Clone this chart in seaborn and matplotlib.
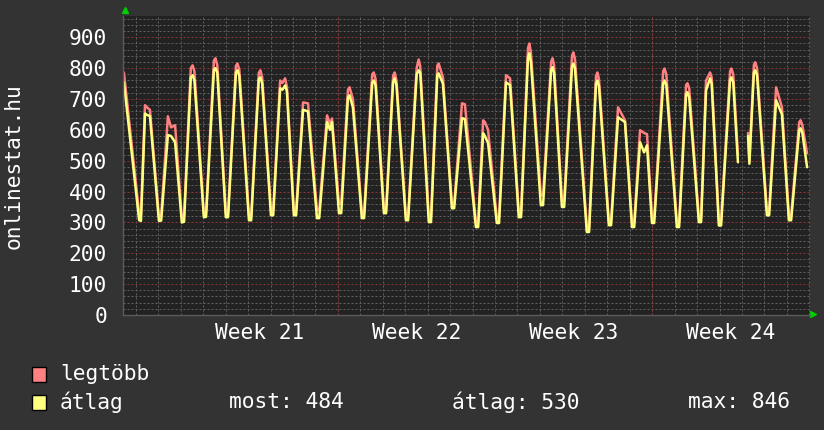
import numpy as np
import pandas as pd
import matplotlib
matplotlib.use("Agg")
import matplotlib.pyplot as plt
import seaborn as sns
from matplotlib.patches import Rectangle

# ---- data (time in days from the start of the graph) ----
t_days = [0.04,
          0.72, 0.80, 0.98, 1.08, 1.20,
          1.60, 1.70, 2.00, 2.14, 2.32,
          2.62, 2.72, 3.02, 3.10, 3.18,
          3.60, 3.70, 4.05, 4.12, 4.20,
          4.58, 4.68, 5.03, 5.10, 5.18,
          5.61, 5.71, 6.05, 6.12, 6.20,
          6.59, 6.69, 7.00, 7.10, 7.22, 7.30,
          7.61, 7.71, 8.02, 8.24,
          8.64, 8.74, 9.09, 9.22, 9.31,
          9.62, 9.72, 10.02, 10.09, 10.24,
          10.64, 10.74, 11.10, 11.17, 11.25,
          11.62, 11.72, 12.03, 12.10, 12.18,
          12.60, 12.70, 13.08, 13.17, 13.24,
          13.62, 13.72, 14.00, 14.06, 14.25,
          14.65, 14.75, 15.10, 15.23,
          15.72, 15.82, 16.04, 16.12, 16.26,
          16.65, 16.75, 17.06, 17.24,
          17.63, 17.73, 18.04, 18.10, 18.17,
          18.61, 18.71, 19.07, 19.13, 19.20,
          19.55, 19.65, 20.00, 20.06, 20.13,
          20.66, 20.76, 21.07, 21.13, 21.20,
          21.64, 21.74, 22.05, 22.36,
          22.67, 22.77, 23.03, 23.21, 23.34,
          23.56, 23.66, 24.06, 24.12, 24.20,
          24.67, 24.77, 25.08, 25.14, 25.22,
          25.65, 25.75, 25.97, 26.15, 26.22,
          26.54, 26.64, 27.04, 27.10, 27.18, 27.39,
          27.84, 27.90, 28.10, 28.16, 28.24,
          28.68, 28.78, 29.09, 29.35,
          29.66, 29.76, 30.12, 30.18, 30.26,
          30.47]
legtobb = [786,
           330, 325, 680, 672, 665,
           320, 322, 644, 608, 615,
           315, 318, 800, 809, 790,
           330, 332, 825, 832, 810,
           330, 330, 808, 815, 795,
           322, 322, 785, 793, 770,
           338, 338, 760, 752, 767, 740,
           338, 338, 689, 686,
           340, 340, 647, 620, 637,
           360, 360, 730, 738, 700,
           330, 330, 780, 786, 765,
           345, 345, 775, 786, 760,
           322, 322, 800, 828, 805,
           318, 318, 808, 815, 770,
           360, 360, 686, 683,
           300, 300, 631, 625, 600,
           315, 315, 777, 767,
           332, 332, 865, 880, 850,
           388, 388, 820, 832, 810,
           370, 370, 840, 851, 830,
           285, 285, 775, 786, 765,
           305, 305, 673, 631,
           300, 300, 599, 590, 586,
           315, 315, 790, 799, 780,
           300, 300, 745, 751, 735,
           316, 316, 760, 786, 770,
           305, 305, 790, 799, 780, 520,
           590, 500, 810, 819, 800,
           338, 338, 738, 673,
           322, 322, 625, 631, 615,
           524]
atlag = [754,
         307, 305, 653, 648, 645,
         305, 306, 583, 580, 560,
         300, 302, 770, 777, 760,
         317, 318, 795, 800, 785,
         317, 317, 785, 793, 775,
         307, 307, 765, 770, 750,
         323, 323, 735, 730, 744, 725,
         323, 323, 665, 660,
         314, 314, 625, 600, 625,
         330, 330, 705, 712, 673,
         314, 314, 752, 760, 745,
         330, 330, 755, 767, 745,
         307, 307, 780, 793, 785,
         301, 301, 778, 783, 750,
         346, 346, 638, 635,
         285, 285, 589, 580, 557,
         298, 298, 754, 745,
         317, 317, 835, 848, 820,
         356, 356, 795, 803, 785,
         350, 350, 805, 815, 800,
         269, 269, 750, 760, 742,
         291, 291, 641, 625,
         285, 285, 560, 527, 550,
         298, 298, 750, 760, 745,
         285, 285, 715, 722, 705,
         301, 301, 728, 767, 750,
         290, 290, 762, 770, 755, 495,
         580, 490, 785, 793, 778,
         323, 323, 696, 650,
         307, 307, 600, 605, 590,
         479]
gap_start = 27.6          # no data between 27.39 and 27.84
week_starts = [2.57, 9.57, 16.57, 23.57]
week_labels = ["Week 21", "Week 22", "Week 23", "Week 24"]
stat_most, stat_atlag, stat_max = 484, 530, 846

c_max = "#ff8080"
c_avg = "#ffff80"

df = pd.concat([
    pd.DataFrame({"t": t_days, "v": legtobb, "series": "legtöbb"}),
    pd.DataFrame({"t": t_days, "v": atlag, "series": "átlag"}),
], ignore_index=True)
df["seg"] = (df["t"] > gap_start).astype(int)

sns.set_theme(style="dark")
plt.rcParams["font.family"] = ["DejaVu Sans Mono", "DejaVu Sans"]

W, H = 824, 430
fig = plt.figure(figsize=(W / 100, H / 100), dpi=100, facecolor="#333333")
ax = fig.add_axes([123 / W, 115 / H, 687 / W, 299 / H], facecolor="#222222")

grid_gray = "#606060"
grid_red = "#8c3434"
dots = (0, (2, 2))

ax.set_xlim(0, 30.6)
ax.set_ylim(0, 969)

day_lines = list(np.arange(week_starts[0] - 2, 30.6, 1.0))
ax.set_xticks([w + 3.5 for w in week_starts])
ax.set_xticklabels(week_labels)
ax.set_xticks(day_lines, minor=True)
ax.set_yticks(range(0, 901, 100))
ax.set_yticks(range(0, 969, 20), minor=True)

ax.set_axisbelow(True)
ax.grid(False)
ax.grid(which="minor", axis="x", color=grid_gray, linestyle=dots, linewidth=0.72)
ax.grid(which="minor", axis="y", color=grid_gray, linestyle=dots, linewidth=0.72)
ax.grid(which="major", axis="y", color=grid_red, linestyle=dots, linewidth=0.72)
for w in week_starts:
    ax.axvline(w, color=grid_red, linestyle=dots, linewidth=0.72, zorder=0.6)

sns.lineplot(data=df, x="t", y="v", hue="series", units="seg", estimator=None,
             hue_order=["legtöbb", "átlag"], palette={"legtöbb": c_max, "átlag": c_avg},
             linewidth=1.8, legend=False, sort=False, ax=ax)

ax.set_xlabel("")
ax.set_ylabel("")
for s in ["top", "right"]:
    ax.spines[s].set_visible(False)
for s in ["left", "bottom"]:
    ax.spines[s].set_color("#5a5a5a")
    ax.spines[s].set_linewidth(1.0)

fs = 15.3
ax.tick_params(axis="both", which="both", length=0, colors="white", labelsize=fs)
ax.tick_params(axis="y", pad=11.5)
ax.tick_params(axis="x", pad=5.5)

# axis arrows
ax.plot([0.003], [1.02], marker="^", color="#00d000", markersize=5, transform=ax.transAxes,
        clip_on=False, linestyle="none")
ax.plot([1.004], [0.004], marker=">", color="#00d000", markersize=5, transform=ax.transAxes,
        clip_on=False, linestyle="none")

fig.text(14 / W, 1 - 166 / H, "onlinestat.hu", rotation=90, ha="center", va="center",
         color="white", fontsize=fs)

# legend
for (yc, col, lab) in [(374, c_max, "legtöbb"), (402, c_avg, "átlag")]:
    fig.patches.append(Rectangle((32 / W, 1 - (yc + 7.5) / H), 14 / W, 15 / H,
                                 transform=fig.transFigure, facecolor=col,
                                 edgecolor="black", linewidth=1))
    fig.text(60 / W, 1 - yc / H, lab, ha="left", va="center", color="white", fontsize=fs)

fig.text(229 / W, 1 - 402 / H, f"most: {stat_most}", ha="left", va="center", color="white", fontsize=fs)
fig.text(452 / W, 1 - 402 / H, f"átlag: {stat_atlag}", ha="left", va="center", color="white", fontsize=fs)
fig.text(688 / W, 1 - 402 / H, f"max: {stat_max}", ha="left", va="center", color="white", fontsize=fs)

fig.savefig("out.png", dpi=100, facecolor=fig.get_facecolor())
